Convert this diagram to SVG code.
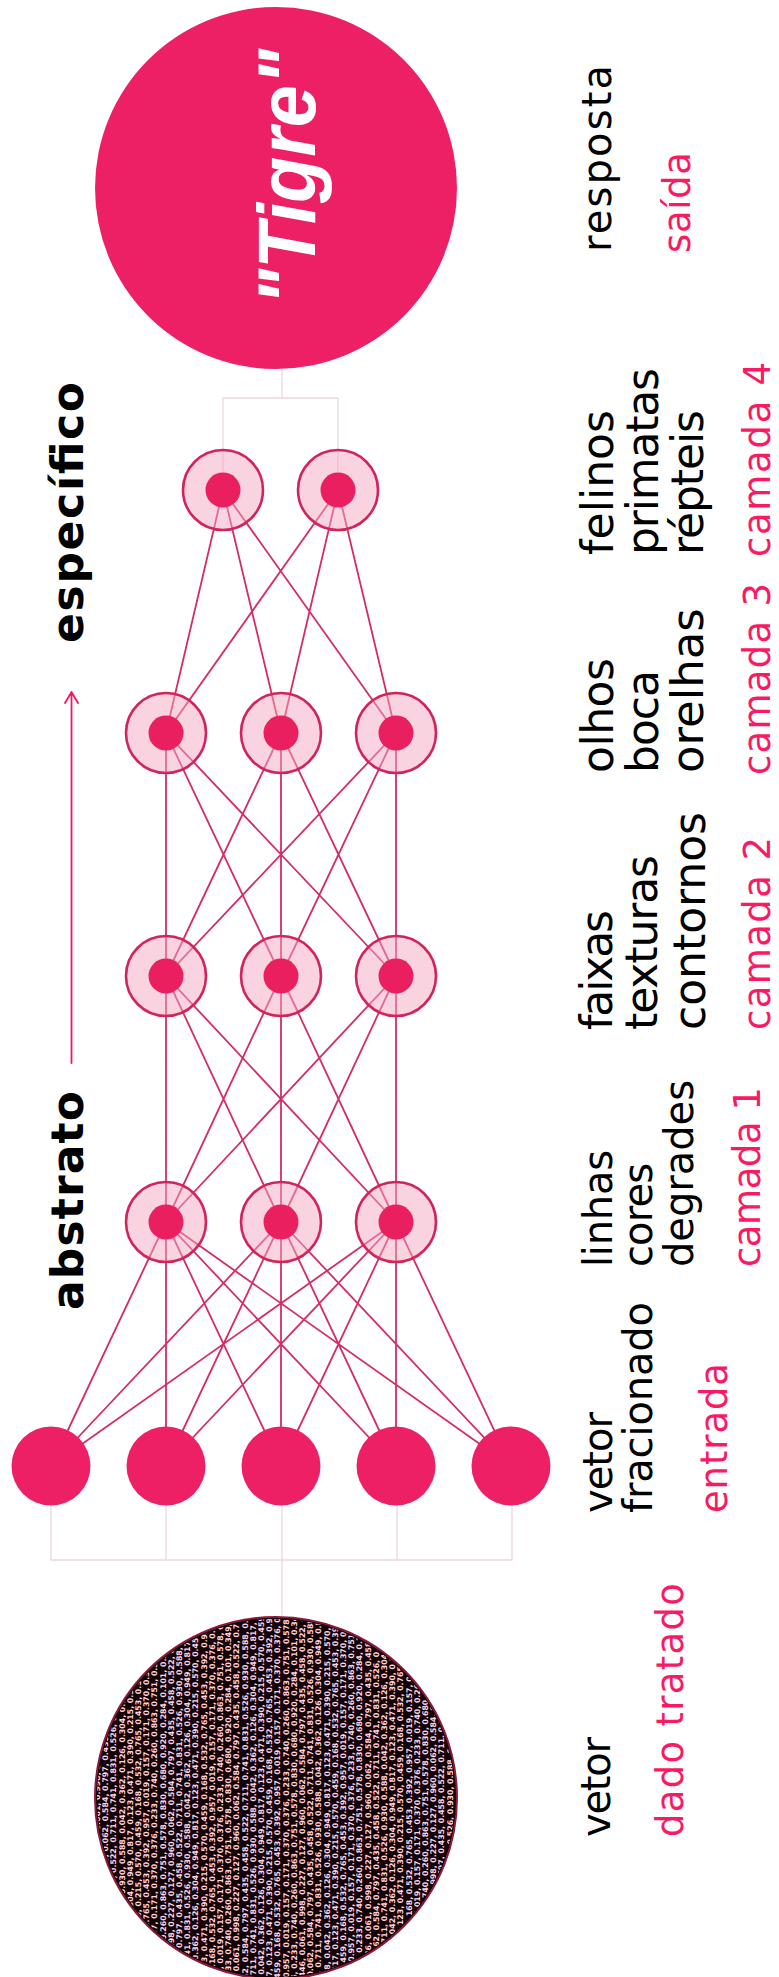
<svg xmlns="http://www.w3.org/2000/svg" xmlns:xlink="http://www.w3.org/1999/xlink" width="779" height="1977" viewBox="0 0 779 1977">
<style>
.link{fill:none;stroke:#d42d63;stroke-width:1.8}
.thin{fill:none;stroke:#eed5dc;stroke-width:1.3}
.arrow{fill:none;stroke:#f0175d;stroke-width:1.8;stroke-linecap:round;stroke-linejoin:round}
.solid{fill:#ee2065}
.ring{fill:#f3a7bf;fill-opacity:0.5;stroke:#d3245a;stroke-width:2.6}
.core{fill:#ea1f5f}
.lb{font-family:"DejaVu Sans","Noto Sans",sans-serif;font-size:44px;fill:#000}
.s40{font-size:40px}
.pk{font-family:"DejaVu Sans","Noto Sans",sans-serif;font-size:37px;fill:#fa1a63}
.bd{font-family:"DejaVu Sans","Noto Sans",sans-serif;font-size:44px;font-weight:bold;fill:#000}
.tg{font-family:"Liberation Sans",Arial,sans-serif;font-size:82px;font-weight:bold;font-style:italic;fill:#fff}
.num{font-family:"DejaVu Sans",sans-serif;font-size:7.8px;font-weight:bold;fill:#ffd3e0}
</style>
<defs>
<clipPath id="vclip"><circle cx="276" cy="1798" r="179"/></clipPath>
<text id="nums" class="num">0.874, 0.812, 0.886, 0.385, 0.446, 0.061, 0.998, 0.227, 0.127, 0.960, 0.062, 0.584, 0.797, 0.435, 0.458, 0.522, 0.711, 0.741, 0.831, 0.526, 0.930, 0.588, 0.042, 0.362, 0.126, 0.304, 0.949, 0.817, 0.123, 0.471, 0.390, 0.215, 0.570, 0.459, 0.168, 0.532, 0.765, 0.453, 0.392, 0.957, 0.019, 0.157, 0.171, 0.370, 0.376, 0.233, 0.740, 0.260, 0.863, 0.751, 0.578, 0.830, 0.680, 0.920, 0.284, 0.101, 0.349, 0.218, 0.569, 0.915, 0.874, 0.812, 0.886, 0.385, 0.442, 0.209, 0.508, 0.661, 0.998, 0.227, 0.127, 0.960, 0.965, 0.630, 0.062, 0.584, 0.797, 0.435, 0.195, 0.711, 0.741, 0.831, 0.526, 0.930, 0.073, 0.362, 0.100, 0.031, 0.390, 0.215</text>
</defs>

<g id="connectors">
<path class="thin" d="M282 369V398M223 398H338M223 398V472M338 398V472M51 1505V1560M166 1505V1560M282 1505V1617M397 1505V1560M512 1505V1560M51 1560H512"/>
<path class="link" d="M51 1466L166 1222M51 1466L281 1222M51 1466L396 1222M166 1466L166 1222M166 1466L281 1222M166 1466L396 1222M281 1466L166 1222M281 1466L281 1222M281 1466L396 1222M396 1466L166 1222M396 1466L281 1222M396 1466L396 1222M511 1466L166 1222M511 1466L281 1222M511 1466L396 1222"/>
<path class="link" d="M166 1222L166 976M166 1222L281 976M166 1222L396 976M281 1222L166 976M281 1222L281 976M281 1222L396 976M396 1222L166 976M396 1222L281 976M396 1222L396 976"/>
<path class="link" d="M166 976L166 733M166 976L281 733M166 976L396 733M281 976L166 733M281 976L281 733M281 976L396 733M396 976L166 733M396 976L281 733M396 976L396 733"/>
<path class="link" d="M166 733L223 490M166 733L338 490M281 733L223 490M281 733L338 490M396 733L223 490M396 733L338 490"/>
<path class="arrow" d="M71.5 1063V693M65 703L71.5 692L78 703"/>
</g>

<g id="output">
<circle class="solid" cx="276" cy="188" r="181"/>
<text class="tg" transform="translate(315 177) rotate(-90)" text-anchor="middle" textLength="256" lengthAdjust="spacingAndGlyphs">"Tigre"</text>
</g>

<g id="l4-n1"><circle class="ring" cx="223" cy="490" r="40"/><circle class="core" cx="223" cy="490" r="17.5"/></g>
<g id="l4-n2"><circle class="ring" cx="338" cy="490" r="40"/><circle class="core" cx="338" cy="490" r="17.5"/></g>

<g id="l3-n1"><circle class="ring" cx="166" cy="733" r="40"/><circle class="core" cx="166" cy="733" r="17.5"/></g>
<g id="l3-n2"><circle class="ring" cx="281" cy="733" r="40"/><circle class="core" cx="281" cy="733" r="17.5"/></g>
<g id="l3-n3"><circle class="ring" cx="396" cy="733" r="40"/><circle class="core" cx="396" cy="733" r="17.5"/></g>

<g id="l2-n1"><circle class="ring" cx="166" cy="976" r="40"/><circle class="core" cx="166" cy="976" r="17.5"/></g>
<g id="l2-n2"><circle class="ring" cx="281" cy="976" r="40"/><circle class="core" cx="281" cy="976" r="17.5"/></g>
<g id="l2-n3"><circle class="ring" cx="396" cy="976" r="40"/><circle class="core" cx="396" cy="976" r="17.5"/></g>

<g id="l1-n1"><circle class="ring" cx="166" cy="1222" r="40"/><circle class="core" cx="166" cy="1222" r="17.5"/></g>
<g id="l1-n2"><circle class="ring" cx="281" cy="1222" r="40"/><circle class="core" cx="281" cy="1222" r="17.5"/></g>
<g id="l1-n3"><circle class="ring" cx="396" cy="1222" r="40"/><circle class="core" cx="396" cy="1222" r="17.5"/></g>

<g id="in-n1"><circle class="solid" cx="51" cy="1466" r="39.5"/></g>
<g id="in-n2"><circle class="solid" cx="166" cy="1466" r="39.5"/></g>
<g id="in-n3"><circle class="solid" cx="281" cy="1466" r="39.5"/></g>
<g id="in-n4"><circle class="solid" cx="396" cy="1466" r="39.5"/></g>
<g id="in-n5"><circle class="solid" cx="511" cy="1466" r="39.5"/></g>

<g id="vetor-data">
<circle cx="276" cy="1798" r="181" fill="#120205"/>
<g clip-path="url(#vclip)">
<use xlink:href="#nums" x="0" transform="translate(100 1982) rotate(-90)"/>
<use xlink:href="#nums" x="-173" transform="translate(108 1982) rotate(-90)"/>
<use xlink:href="#nums" x="-346" transform="translate(116 1982) rotate(-90)"/>
<use xlink:href="#nums" x="-519" transform="translate(125 1982) rotate(-90)"/>
<use xlink:href="#nums" x="-692" transform="translate(133 1982) rotate(-90)"/>
<use xlink:href="#nums" x="-865" transform="translate(141 1982) rotate(-90)"/>
<use xlink:href="#nums" x="-1038" transform="translate(149 1982) rotate(-90)"/>
<use xlink:href="#nums" x="-1211" transform="translate(157 1982) rotate(-90)"/>
<use xlink:href="#nums" x="-1384" transform="translate(166 1982) rotate(-90)"/>
<use xlink:href="#nums" x="-157" transform="translate(174 1982) rotate(-90)"/>
<use xlink:href="#nums" x="-330" transform="translate(182 1982) rotate(-90)"/>
<use xlink:href="#nums" x="-503" transform="translate(190 1982) rotate(-90)"/>
<use xlink:href="#nums" x="-676" transform="translate(198 1982) rotate(-90)"/>
<use xlink:href="#nums" x="-849" transform="translate(207 1982) rotate(-90)"/>
<use xlink:href="#nums" x="-1022" transform="translate(215 1982) rotate(-90)"/>
<use xlink:href="#nums" x="-1195" transform="translate(223 1982) rotate(-90)"/>
<use xlink:href="#nums" x="-1368" transform="translate(231 1982) rotate(-90)"/>
<use xlink:href="#nums" x="-141" transform="translate(239 1982) rotate(-90)"/>
<use xlink:href="#nums" x="-314" transform="translate(248 1982) rotate(-90)"/>
<use xlink:href="#nums" x="-487" transform="translate(256 1982) rotate(-90)"/>
<use xlink:href="#nums" x="-660" transform="translate(264 1982) rotate(-90)"/>
<use xlink:href="#nums" x="-833" transform="translate(272 1982) rotate(-90)"/>
<use xlink:href="#nums" x="-1006" transform="translate(280 1982) rotate(-90)"/>
<use xlink:href="#nums" x="-1179" transform="translate(289 1982) rotate(-90)"/>
<use xlink:href="#nums" x="-1352" transform="translate(297 1982) rotate(-90)"/>
<use xlink:href="#nums" x="-125" transform="translate(305 1982) rotate(-90)"/>
<use xlink:href="#nums" x="-298" transform="translate(313 1982) rotate(-90)"/>
<use xlink:href="#nums" x="-471" transform="translate(321 1982) rotate(-90)"/>
<use xlink:href="#nums" x="-644" transform="translate(330 1982) rotate(-90)"/>
<use xlink:href="#nums" x="-817" transform="translate(338 1982) rotate(-90)"/>
<use xlink:href="#nums" x="-990" transform="translate(346 1982) rotate(-90)"/>
<use xlink:href="#nums" x="-1163" transform="translate(354 1982) rotate(-90)"/>
<use xlink:href="#nums" x="-1336" transform="translate(362 1982) rotate(-90)"/>
<use xlink:href="#nums" x="-109" transform="translate(371 1982) rotate(-90)"/>
<use xlink:href="#nums" x="-282" transform="translate(379 1982) rotate(-90)"/>
<use xlink:href="#nums" x="-455" transform="translate(387 1982) rotate(-90)"/>
<use xlink:href="#nums" x="-628" transform="translate(395 1982) rotate(-90)"/>
<use xlink:href="#nums" x="-801" transform="translate(403 1982) rotate(-90)"/>
<use xlink:href="#nums" x="-974" transform="translate(412 1982) rotate(-90)"/>
<use xlink:href="#nums" x="-1147" transform="translate(420 1982) rotate(-90)"/>
<use xlink:href="#nums" x="-1320" transform="translate(428 1982) rotate(-90)"/>
<use xlink:href="#nums" x="-93" transform="translate(436 1982) rotate(-90)"/>
<use xlink:href="#nums" x="-266" transform="translate(444 1982) rotate(-90)"/>
<use xlink:href="#nums" x="-439" transform="translate(453 1982) rotate(-90)"/>
</g>
<circle cx="276" cy="1798" r="181" fill="none" stroke="#8a1a3c" stroke-width="2"/>
</g>

<g id="labels">
<text class="bd" transform="translate(83 643) rotate(-90)" textLength="261" lengthAdjust="spacing">específico</text>
<text class="bd" transform="translate(83 1310) rotate(-90)" textLength="219" lengthAdjust="spacing">abstrato</text>

<text class="lb s40" transform="translate(611 252) rotate(-90)" textLength="187" lengthAdjust="spacing">resposta</text>
<text class="pk" transform="translate(690 253) rotate(-90)" textLength="101" lengthAdjust="spacing">saída</text>

<text class="lb" transform="translate(613 555) rotate(-90)" textLength="145" lengthAdjust="spacing">felinos</text>
<text class="lb" transform="translate(658 555) rotate(-90)" textLength="187" lengthAdjust="spacing">primatas</text>
<text class="lb" transform="translate(703 555) rotate(-90)" textLength="145" lengthAdjust="spacing">répteis</text>
<text class="pk" transform="translate(770 557) rotate(-90)" textLength="195" lengthAdjust="spacing">camada 4</text>

<text class="lb" transform="translate(613 773) rotate(-90)" textLength="115" lengthAdjust="spacing">olhos</text>
<text class="lb" transform="translate(658 773) rotate(-90)" textLength="103" lengthAdjust="spacing">boca</text>
<text class="lb" transform="translate(703 773) rotate(-90)" style="font-size:45px">orelhas</text>
<text class="pk" transform="translate(770 775) rotate(-90)" textLength="192" lengthAdjust="spacing">camada 3</text>

<text class="lb" transform="translate(612 1030) rotate(-90)" textLength="120" lengthAdjust="spacing">faixas</text>
<text class="lb" transform="translate(657 1030) rotate(-90)" textLength="175" lengthAdjust="spacing">texturas</text>
<text class="lb" transform="translate(705 1030) rotate(-90)" textLength="218" lengthAdjust="spacing">contornos</text>
<text class="pk" transform="translate(770 1030) rotate(-90)" textLength="193" lengthAdjust="spacing">camada 2</text>

<text class="lb s40" transform="translate(612 1267) rotate(-90)" textLength="117" lengthAdjust="spacing">linhas</text>
<text class="lb s40" transform="translate(652 1267) rotate(-90)" textLength="104" lengthAdjust="spacing">cores</text>
<text class="lb s40" transform="translate(693 1267) rotate(-90)" textLength="187" lengthAdjust="spacing">degrades</text>
<text class="pk" transform="translate(760 1267) rotate(-90)" textLength="180" lengthAdjust="spacing">camada 1</text>

<text class="lb s40" transform="translate(612 1513) rotate(-90)" textLength="101" lengthAdjust="spacing">vetor</text>
<text class="lb s40" transform="translate(652 1513) rotate(-90)" textLength="211" lengthAdjust="spacing">fracionado</text>
<text class="pk" transform="translate(727 1513) rotate(-90)" textLength="150" lengthAdjust="spacing">entrada</text>

<text class="lb s40" transform="translate(610 1837) rotate(-90)" textLength="100" lengthAdjust="spacing">vetor</text>
<text class="pk" transform="translate(683 1837) rotate(-90)" textLength="254" lengthAdjust="spacing">dado tratado</text>
</g>
</svg>
